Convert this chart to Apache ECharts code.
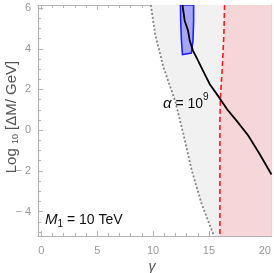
<!DOCTYPE html>
<html><head><meta charset="utf-8">
<script src="https://cdn.jsdelivr.net/npm/echarts@6/dist/echarts.min.js"></script>
<style>html,body{margin:0;padding:0;background:#fff}#c{width:274px;height:273px}</style>
</head><body><div id="c"></div>
<script>
// Axis extents and ticks
const X_MIN = -0.3, X_MAX = 20.6, Y_MIN = -5.2, Y_MAX = 6.15;
const xMajor = [0, 5, 10, 15, 20];
const xMinor = [1, 2, 3, 4, 6, 7, 8, 9, 11, 12, 13, 14, 16, 17, 18, 19];
const yMajor = [-4, -2, 0, 2, 4, 6];
const yMinor = [-5, -4.5, -3.5, -3, -2.5, -1.5, -1, -0.5, 0.5, 1, 1.5, 2.5, 3, 3.5, 4.5, 5, 5.5];

// Gray dotted boundary (region to its right shaded gray)
const dotX = [9.8, 10.18, 10.93, 11.96, 12.71, 13.46, 14.35, 15.45];
const dotY = [6.15, 4.73, 3.09, 1.46, -0.18, -1.98, -3.63, -5.2];

// Red dashed boundary (region to its right shaded pink)
const redX = [16.4, 16.34, 16.2, 16.1, 16.02, 15.98, 15.98];
const redY = [6.15, 4.73, 3.09, 2.27, 1.46, 0.48, -5.2];

// Black solid curve alpha = 10^9
const blkX = [12.63, 12.83, 13.13, 13.28, 13.57, 13.95, 14.32, 15.06, 15.85, 16.7, 17.45, 18.5, 19.55, 20.6];
const blkY = [6.15, 5.38, 4.89, 4.40, 3.91, 3.50, 3.09, 2.27, 1.66, 0.97, 0.48, -0.25, -1.18, -2.18];

// Blue region outline
const bluX = [12.45, 13.63, 13.63, 13.57, 13.43, 12.63, 12.54, 12.47];
const bluY = [6.15, 6.15, 5.38, 4.40, 3.79, 3.72, 4.40, 5.38];

const FONT = 'Liberation Sans, Arial, sans-serif';
const pairs = (xs, ys) => xs.map((x, i) => [x, ys[i]]);

function poly(xs, ys, style, z) {
  return {
    type: 'custom', silent: true, z: z, clip: true,
    xAxisIndex: 0, yAxisIndex: 0,
    data: [[xs[0], ys[0]]],
    renderItem: function (params, api) {
      return { type: 'polygon', shape: { points: xs.map((x, i) => api.coord([x, ys[i]])) }, style: style };
    }
  };
}

const grayPolyX = dotX.concat([X_MAX, X_MAX]);
const grayPolyY = dotY.concat([Y_MIN, Y_MAX]);
const redPolyX = redX.concat([X_MAX, X_MAX]);
const redPolyY = redY.concat([Y_MIN, Y_MAX]);

const axisCol = '#b4b4b4';
function xAx(pos, vals, len, labels, line) {
  return {
    type: 'value', min: X_MIN, max: X_MAX, position: pos,
    axisLine: { show: line, onZero: false, lineStyle: { color: axisCol, width: 1.2 } },
    axisTick: { show: true, inside: true, length: len, customValues: vals, lineStyle: { color: axisCol } },
    axisLabel: { show: labels, customValues: xMajor, color: '#999', fontSize: 11, fontFamily: FONT, margin: 9 },
    splitLine: { show: false }
  };
}
function yAx(pos, vals, len, labels, line) {
  return {
    type: 'value', min: Y_MIN, max: Y_MAX, position: pos,
    axisLine: { show: line, onZero: false, lineStyle: { color: axisCol, width: 1.2 } },
    axisTick: { show: true, inside: true, length: len, customValues: vals, lineStyle: { color: axisCol } },
    axisLabel: { show: labels, customValues: yMajor, color: '#999', fontSize: 11, fontFamily: FONT, margin: 7,
      formatter: v => (v < 0 ? '\u2212 ' + (-v) : '' + v) },
    splitLine: { show: false }
  };
}

const chart = echarts.init(document.getElementById('c'), null, { renderer: 'canvas' });
chart.setOption({
  animation: false,
  grid: { left: 38, right: 2.5, top: 5, bottom: 37 },
  xAxis: [
    xAx('bottom', xMajor, 5, true, true),
    xAx('bottom', xMinor, 3, false, false),
    xAx('top', xMajor, 5, false, true),
    xAx('top', xMinor, 3, false, false)
  ],
  yAxis: [
    yAx('left', yMajor, 5, true, true),
    yAx('left', yMinor, 3, false, false),
    yAx('right', yMajor, 5, false, true),
    yAx('right', yMinor, 3, false, false)
  ],
  series: [
    poly(grayPolyX, grayPolyY, { fill: '#f1f1f1' }, 1),
    poly(redPolyX, redPolyY, { fill: '#f7d6d9' }, 2),
    poly(bluX, bluY, { fill: '#a7a7f4', stroke: '#1f1fff', lineWidth: 1.6 }, 3),
    { type: 'line', z: 4, data: pairs(dotX, dotY), showSymbol: false, silent: true,
      lineStyle: { color: '#858585', width: 1.8, type: [2, 2] } },
    { type: 'line', z: 4, data: pairs(redX, redY), showSymbol: false, silent: true,
      lineStyle: { color: '#ff1a1a', width: 1.6, type: [5, 3] } },
    { type: 'line', z: 5, data: pairs(blkX, blkY), showSymbol: false, silent: true, clip: true,
      lineStyle: { color: '#000', width: 1.8 } }
  ],
  graphic: [
    { type: 'text', x: 12, y: 117, rotation: Math.PI / 2, z: 10,
      style: { text: 'Log {s|10} [ΔM/ GeV]', fill: '#555', font: '15px ' + FONT, align: 'center', verticalAlign: 'middle',
        rich: { s: { fontSize: 9, fill: '#555', fontFamily: FONT, verticalAlign: 'bottom', lineHeight: 17 } } } },
    { type: 'text', x: 152, y: 267, z: 10,
      style: { text: 'γ', fill: '#555', font: 'italic 14px ' + FONT, align: 'center', verticalAlign: 'middle' } },
    { type: 'text', x: 163, y: 104, z: 10,
      style: { text: '{i|α} = 10{s|9}', fill: '#111', font: '14px ' + FONT, align: 'left', verticalAlign: 'middle',
        rich: { i: { fontStyle: 'italic', fontSize: 15, fill: '#111', fontFamily: FONT },
                s: { fontSize: 10, fill: '#111', fontFamily: FONT, verticalAlign: 'top', lineHeight: 24 } } } },
    { type: 'text', x: 45, y: 220, z: 10,
      style: { text: '{i|M}{s|1} = 10 TeV', fill: '#111', font: '14px ' + FONT, align: 'left', verticalAlign: 'middle',
        rich: { i: { fontStyle: 'italic', fontSize: 15, fill: '#111', fontFamily: FONT },
                s: { fontSize: 10, fill: '#111', fontFamily: FONT, verticalAlign: 'bottom', lineHeight: 19 } } } }
  ]
});
</script></body></html>
